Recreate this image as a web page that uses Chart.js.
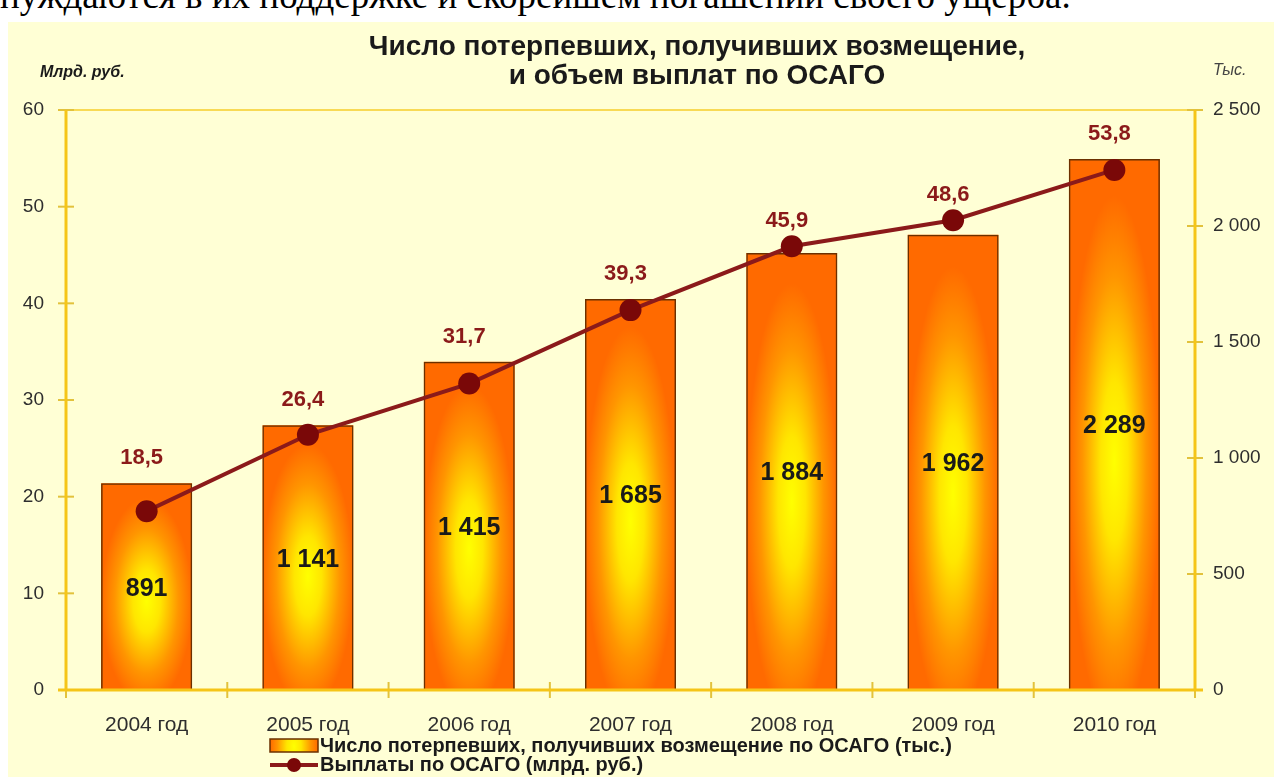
<!DOCTYPE html>
<html lang="ru">
<head>
<meta charset="utf-8">
<title>ОСАГО</title>
<script src="https://cdn.jsdelivr.net/npm/chart.js@4.4.1/dist/chart.umd.min.js"></script>
<style>
  html, body { margin: 0; padding: 0; background: #fff; width: 1274px; height: 777px; overflow: hidden; }
  #textoTopo {
    position: absolute; left: 0; top: -23px;
    font: 37px/37px "Liberation Serif", "Times New Roman", serif;
    white-space: nowrap; color: #000;
  }
  #quadro { position: absolute; left: 8px; top: 22px; width: 1266px; height: 755px; background: #FFFFD5; }
</style>
</head>
<body>
<div id="textoTopo">нуждаются в их поддержке и скорейшем погашении своего ущерба.</div>
<div id="quadro"><canvas id="grafico" width="1266" height="755"></canvas></div>
<script>
  "use strict";

  // dados
  const anos = ["2004 год", "2005 год", "2006 год", "2007 год", "2008 год", "2009 год", "2010 год"];
  const vitimas = [891, 1141, 1415, 1685, 1884, 1962, 2289]; // тыс.
  const pagamentos = [18.5, 26.4, 31.7, 39.3, 45.9, 48.6, 53.8]; // млрд. руб.
  const ticksEsq = [0, 10, 20, 30, 40, 50, 60];
  const ticksDir = [0, 500, 1000, 1500, 2000, 2500];

  const FONTE = "'Liberation Sans', Arial, sans-serif";
  const EIXO = "#F5C518";
  const TRACO = "#E2C23C";
  const VINHO = "#8B1A1A";

  Chart.defaults.font.family = FONTE;

  function milhares(v) {
    return String(v).replace(/\B(?=(\d{3})+(?!\d))/g, " ");
  }

  function decimal(v) {
    return v.toFixed(1).replace(".", ",");
  }

  function pintarBarra(ctx, esq, topo, w, h) {
    ctx.save();
    ctx.beginPath();
    ctx.rect(esq, topo, w, h);
    ctx.clip();
    ctx.translate(esq + w / 2, topo + h * 0.57);
    ctx.scale(w / 2, Math.max(h * 0.5, w));
    const g = ctx.createRadialGradient(0, 0, 0, 0, 0, 1);
    g.addColorStop(0, "#FFFF00");
    g.addColorStop(0.3, "#FFE600");
    g.addColorStop(0.7, "#FF9500");
    g.addColorStop(1, "#FF6A00");
    ctx.fillStyle = g;
    ctx.fillRect(-1, -4, 2, 8);
    ctx.restore();
  }

  const preenchimento = {
    id: "preenchimento",
    beforeDatasetDraw(chart, args) {
      if (args.index !== 0) return;
      args.meta.data.forEach((el) => {
        const p = el.getProps(["x", "y", "base", "width"], true);
        pintarBarra(chart.ctx, p.x - p.width / 2, p.y, p.width, p.base - p.y);
      });
    },
  };

  const eixos = {
    id: "eixos",
    afterDatasetsDraw(chart) {
      const { ctx, chartArea: a, scales } = chart;
      const linha = (x1, y1, x2, y2) => {
        ctx.beginPath();
        ctx.moveTo(x1, y1);
        ctx.lineTo(x2, y2);
        ctx.stroke();
      };
      ctx.save();
      ctx.strokeStyle = "#F8DA55";
      ctx.lineWidth = 2;
      linha(a.left, a.top, a.right, a.top);

      ctx.strokeStyle = TRACO;
      ctx.lineWidth = 2;
      scales.y.ticks.forEach((t) => {
        const py = scales.y.getPixelForValue(t.value);
        linha(a.left - 8, py, a.left + 8, py);
      });
      scales.y1.ticks.forEach((t) => {
        const py = scales.y1.getPixelForValue(t.value);
        linha(a.right - 8, py, a.right + 8, py);
      });
      for (let i = 0; i <= anos.length; i++) {
        const px = scales.x.getPixelForValue(i - 0.5);
        linha(px, a.bottom - 8, px, a.bottom + 8);
      }

      ctx.strokeStyle = EIXO;
      ctx.lineWidth = 3;
      linha(a.left, a.top, a.left, a.bottom);
      linha(a.right, a.top, a.right, a.bottom);
      linha(a.left - 8, a.bottom, a.right + 8, a.bottom);
      ctx.restore();
    },
  };

  const rotulos = {
    id: "rotulos",
    afterDatasetsDraw(chart) {
      const ctx = chart.ctx;
      const barras = chart.getDatasetMeta(0).data;
      const pontos = chart.getDatasetMeta(1).data;
      ctx.save();
      ctx.textAlign = "center";
      ctx.textBaseline = "middle";
      ctx.font = "bold 25px " + FONTE;
      ctx.fillStyle = "#1a1a1a";
      barras.forEach((b, i) => {
        ctx.fillText(milhares(vitimas[i]), b.x, (b.y + b.base) / 2 + 2);
      });
      ctx.font = "bold 22px " + FONTE;
      ctx.fillStyle = VINHO;
      pontos.forEach((p, i) => {
        const topo = Math.min(p.y, barras[i].y);
        ctx.fillText(decimal(pagamentos[i]), p.x - 5, topo - 25);
      });
      ctx.restore();
    },
  };

  const moldura = {
    id: "moldura",
    afterDraw(chart) {
      const ctx = chart.ctx;
      const cx = chart.width / 2 + 56;
      ctx.save();
      ctx.fillStyle = "#1a1a1a";
      ctx.textAlign = "center";
      ctx.textBaseline = "middle";
      ctx.font = "bold 28px " + FONTE;
      ctx.fillText("Число потерпевших, получивших возмещение,", cx, 25);
      ctx.fillText("и объем выплат по ОСАГО", cx, 54);

      ctx.textAlign = "left";
      ctx.font = "italic bold 16px " + FONTE;
      ctx.fillText("Млрд. руб.", 32, 51);
      ctx.fillStyle = "#444";
      ctx.font = "italic 16px " + FONTE;
      ctx.fillText("Тыс.", 1205, 49);

      // legenda
      const ds = chart.data.datasets;
      const lx = 262;
      ctx.fillStyle = "#1a1a1a";
      ctx.font = "bold 20px " + FONTE;
      pintarBarra(ctx, lx, 717, 48, 13);
      ctx.strokeStyle = "#6b3000";
      ctx.lineWidth = 1.5;
      ctx.strokeRect(lx, 717, 48, 13);
      ctx.fillText(ds[0].label, lx + 50, 724);

      ctx.strokeStyle = ds[1].borderColor;
      ctx.lineWidth = 4;
      ctx.beginPath();
      ctx.moveTo(lx, 743);
      ctx.lineTo(lx + 48, 743);
      ctx.stroke();
      ctx.fillStyle = ds[1].pointBackgroundColor;
      ctx.beginPath();
      ctx.arc(lx + 24, 743, 7, 0, Math.PI * 2);
      ctx.fill();
      ctx.fillStyle = "#1a1a1a";
      ctx.fillText(ds[1].label, lx + 50, 743);
      ctx.restore();
    },
  };

  const corTick = "#2e2e2e";

  new Chart(document.getElementById("grafico"), {
    type: "bar",
    data: {
      labels: anos,
      datasets: [
        {
          type: "bar",
          label: "Число потерпевших, получивших возмещение по ОСАГО (тыс.)",
          data: vitimas,
          yAxisID: "y1",
          order: 1,
          backgroundColor: "rgba(0,0,0,0)",
          borderColor: "#6b3000",
          borderWidth: 1.5,
          categoryPercentage: 1,
          barPercentage: 0.565,
        },
        {
          type: "line",
          label: "Выплаты по ОСАГО (млрд. руб.)",
          data: pagamentos,
          yAxisID: "y",
          order: 0,
          borderColor: VINHO,
          borderWidth: 4,
          pointRadius: 11,
          pointBackgroundColor: "#7A0808",
          pointBorderColor: "#7A0808",
          pointBorderWidth: 0,
          tension: 0,
        },
      ],
    },
    options: {
      responsive: false,
      animation: false,
      layout: { padding: { top: 88 } },
      plugins: {
        legend: { display: false },
        title: { display: false },
        tooltip: { enabled: false },
      },
      scales: {
        x: {
          grid: { display: false },
          border: { display: false },
          ticks: { color: corTick, font: { size: 21 }, padding: 15, maxRotation: 0, autoSkip: false },
          afterFit(s) { s.height = 87; },
        },
        y: {
          position: "left",
          min: ticksEsq[0],
          max: ticksEsq[ticksEsq.length - 1],
          grid: { display: false },
          border: { display: false },
          ticks: { stepSize: ticksEsq[1] - ticksEsq[0], color: corTick, font: { size: 19 }, padding: 14 },
          afterFit(s) { s.width = 58; },
        },
        y1: {
          position: "right",
          min: ticksDir[0],
          max: ticksDir[ticksDir.length - 1],
          grid: { display: false },
          border: { display: false },
          ticks: {
            stepSize: ticksDir[1] - ticksDir[0],
            color: corTick,
            font: { size: 19 },
            padding: 10,
            callback: (v) => milhares(v),
          },
          afterFit(s) { s.width = 79; },
        },
      },
    },
    plugins: [preenchimento, eixos, rotulos, moldura],
  });
</script>
</body>
</html>
